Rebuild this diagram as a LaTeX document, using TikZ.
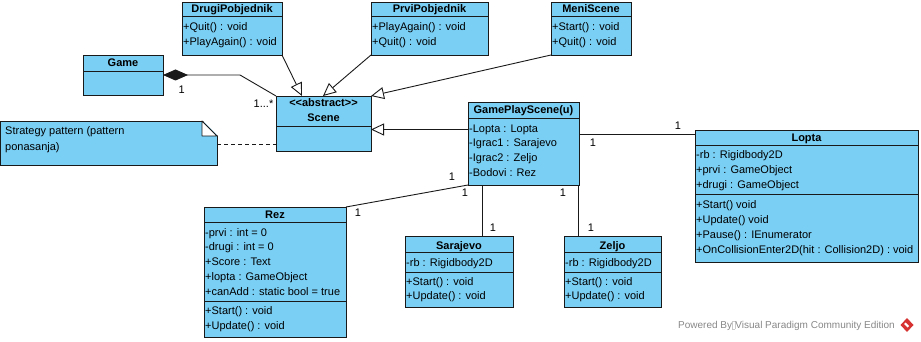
\documentclass[tikz,border=0pt]{standalone}
\usepackage{fontspec}
\setmainfont{Liberation Sans}
\usetikzlibrary{arrows.meta,calc}

\definecolor{clsfill}{RGB}{122,207,245}
\definecolor{clsline}{RGB}{25,25,25}
\definecolor{wmgray}{RGB}{135,135,135}
\definecolor{vpred}{RGB}{214,50,50}

\tikzset{
  cls/.style={draw=clsline, fill=clsfill, line width=0.9pt, rectangle, inner sep=0pt, outer sep=0pt, anchor=north west},
  row/.style={anchor=base west, inner sep=0pt, font=\fontsize{11}{13}\selectfont},
  ttl/.style={anchor=base, inner sep=0pt, font=\fontsize{11}{13}\selectfont\bfseries},
  mult/.style={inner sep=0pt, font=\fontsize{11}{13}\selectfont},
  conn/.style={draw=clsline, line width=0.9pt},
  gen/.style={conn, -{Triangle[open, length=13pt, width=12pt, fill=white]}},
  comp/.style={conn, {Diamond[length=25pt, width=11pt]}-},
  noteline/.style={conn, dash pattern=on 4pt off 3pt},
  wm/.style={inner sep=0pt, anchor=base west, text=wmgray, font=\fontsize{10}{12}\selectfont},
}

% class box: name, x, y (top-left), width, height
\newcommand{\umlclass}[5]{\node[cls, minimum width=#4pt, minimum height=#5pt] (#1) at (#2,#3) {};}
% horizontal compartment line, offset below the top edge
\newcommand{\compline}[2]{\draw[conn] ([yshift=-#2pt]#1.north west) -- ([yshift=-#2pt]#1.north east);}
% text rows: prefix, x, first baseline, step, list
\newcommand{\rowsat}[5]{\foreach \t [count=\i] in {#5} {\node[row] (#1\i) at (#2,#3+#4*\i-#4) {\t};}}

\begin{document}
\begin{tikzpicture}[x=1pt,y=-1pt]
\useasboundingbox (0,0) rectangle (921,342);

% ---------- classes ----------
\umlclass{drugi}{182}{2}{100}{53}
\compline{drugi}{14}
\node[ttl] (drugi-t) at (232,13) {DrugiPobjednik};
\rowsat{drugi-m}{183}{30.5}{15.5}{+Quit() : void,+PlayAgain() : void}

\umlclass{prvi}{371}{2}{117}{53}
\compline{prvi}{14}
\node[ttl] (prvi-t) at (429.5,13) {PrviPobjednik};
\rowsat{prvi-m}{372}{30.5}{15.5}{+PlayAgain() : void,+Quit() : void}

\umlclass{meni}{551}{2}{80}{53}
\compline{meni}{14}
\node[ttl] (meni-t) at (591,13) {MeniScene};
\rowsat{meni-m}{552}{30.5}{15.5}{+Start() : void,+Quit() : void}

\umlclass{game}{83}{55}{80}{40}
\compline{game}{16}
\node[ttl] (game-t) at (123,67) {Game};

\umlclass{scene}{276}{96}{95}{55}
\compline{scene}{30}
\node[ttl] (scene-s) at (323.5,106.5) {<\kern0pt<abstract>\kern0pt>};
\node[ttl] (scene-t) at (323.5,122) {Scene};

\umlclass{gp}{468}{102}{111}{83}
\compline{gp}{16}
\node[ttl] (gp-t) at (523.5,114) {GamePlayScene(u)};
\rowsat{gp-a}{469}{132}{14.8}{-Lopta : Lopta,-Igrac1 : Sarajevo,-Igrac2 : Zeljo,-Bodovi : Rez}

\umlclass{lopta}{695}{130}{223}{132}
\compline{lopta}{15}
\compline{lopta}{64}
\node[ttl] (lopta-t) at (806.5,141.5) {Lopta};
\rowsat{lopta-a}{696}{158}{15.5}{-rb : Rigidbody2D,+prvi : GameObject,+drugi : GameObject}
\rowsat{lopta-m}{696}{208}{15.3}{+Start() void,+Update() void,+Pause() : IEnumerator,+OnCollisionEnter2D(hit : Collision2D) : void}

\umlclass{rez}{204}{207}{142}{130}
\compline{rez}{15}
\compline{rez}{94}
\node[ttl] (rez-t) at (275,218) {Rez};
\rowsat{rez-a}{205}{236}{14.8}{-prvi : int = 0,-drugi : int = 0,+Score : Text,+lopta : GameObject,+canAdd : static bool = true}
\rowsat{rez-m}{205}{314}{15}{+Start() : void,+Update() : void}

\umlclass{sarajevo}{405}{236.5}{108}{71}
\compline{sarajevo}{16}
\compline{sarajevo}{35.5}
\node[ttl] (sarajevo-t) at (459,249) {Sarajevo};
\rowsat{sarajevo-a}{406}{266}{15}{-rb : Rigidbody2D}
\rowsat{sarajevo-m}{406}{285}{14.5}{+Start() : void,+Update() : void}

\umlclass{zeljo}{564}{236.5}{97}{71}
\compline{zeljo}{16}
\compline{zeljo}{35.5}
\node[ttl] (zeljo-t) at (612.5,249) {Zeljo};
\rowsat{zeljo-a}{565}{266}{15}{-rb : Rigidbody2D}
\rowsat{zeljo-m}{565}{285}{14.5}{+Start() : void,+Update() : void}

% ---------- note with folded corner ----------
\node[cls, minimum width=216.5pt, minimum height=44pt] (note) at (0.5,121) {};
\fill[white] (202,120) -- (218,120) -- (218,136) -- cycle;
\draw[conn, fill=white, line join=round] (202,121) -- (217,136) -- (202,136) -- cycle;
\rowsat{note-t}{5}{134.5}{16}{Strategy pattern (pattern,ponasanja)}

% ---------- connectors ----------
\coordinate (bend) at (240,75);
\draw[comp] (game.east) -- (bend) -- (scene.north west);
\node[mult] (m-game) at (181.7,90) {1};
\node[mult] (m-scene) at (263.5,104) {1...*};

\draw[gen] (drugi.south east) -- ([xshift=26pt]scene.north west);
\draw[gen] (prvi.south west) -- ([xshift=47pt]scene.north west);
\draw[gen] (meni.south west) -- (scene.north east);
\draw[gen] ([yshift=-27.5pt]gp.north west) coordinate (gpl) -- (gpl -| scene.east);

\draw[noteline] ([yshift=-23pt]note.north east) coordinate (nr) -- (nr -| scene.west);

\draw[conn] ([yshift=-4pt]lopta.north west) coordinate (lp) -- (lp -| gp.east);
\node[mult] (m-gp1) at (593,143) {1};
\node[mult] (m-lopta) at (678,126) {1};

\draw[conn] (rez.north east) -- (gp.south west);
\node[mult] (m-rez) at (358,213) {1};
\node[mult] (m-gp2) at (452,177) {1};

\draw[conn] ([xshift=14pt]gp.south west) coordinate (s1) -- (s1 |- sarajevo.north);
\node[mult] (m-gp3) at (465,193) {1};
\node[mult] (m-sar) at (493,228) {1};

\draw[conn] ([xshift=14pt]zeljo.north west) coordinate (z1) -- (z1 |- gp.south);
\node[mult] (m-gp4) at (563,193) {1};
\node[mult] (m-zel) at (591,228) {1};

% ---------- footer ----------
\node[wm] (powered) at (678,328.5) {Powered By{\color{wmgray!45}\setlength\fboxsep{0pt}\setlength\fboxrule{0.4pt}\fbox{\rule{0pt}{7pt}\hspace{2.5pt}}}Visual Paradigm Community Edition};
\fill[vpred] (907,318) -- (913.5,325) -- (907,332) -- (900.5,325) -- cycle;
\fill[white] (905.5,322.5) -- (909,326) -- (907.5,327.5) -- (904,324) -- cycle;
\end{tikzpicture}
\end{document}
